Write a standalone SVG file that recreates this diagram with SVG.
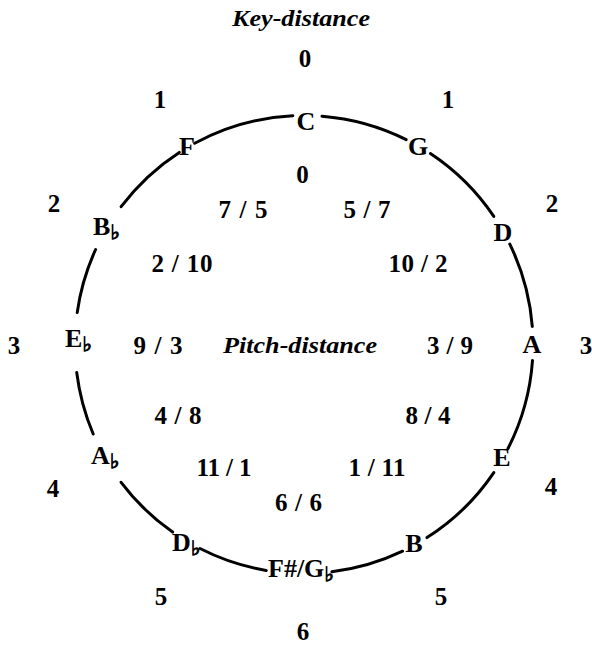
<svg xmlns="http://www.w3.org/2000/svg" width="592" height="645" viewBox="0 0 592 645">
<style>
text{font-family:"Liberation Serif","Times New Roman",serif;font-size:25px;font-weight:bold;fill:#000;text-anchor:middle}
.n{font-size:26px}
.s{text-anchor:start}
.it{font-style:italic;font-size:24px}
.fl{font-family:"DejaVu Sans","DejaVu Serif",sans-serif;font-size:20px;font-weight:bold;font-variant-emoji:text;stroke:#000;stroke-width:1}
.arc{fill:none;stroke:#000;stroke-width:3;stroke-linecap:round}
</style>
<rect width="592" height="645" fill="#fff"/>
<g id="connectors">
<path class="arc" d="M322.0 116.2 A229 229 0 0 1 406.2 139.6"/>
<path class="arc" d="M430.4 153.5 A229 229 0 0 1 493.8 216.4"/>
<path class="arc" d="M509.8 244.1 A229 229 0 0 1 532.3 326.5"/>
<path class="arc" d="M532.5 360.5 A229 229 0 0 1 508.0 448.5"/>
<path class="arc" d="M493.8 472.6 A229 229 0 0 1 427.0 537.6"/>
<path class="arc" d="M402.6 551.2 A229 229 0 0 1 331.9 571.8"/>
<path class="arc" d="M266.2 570.4 A229 229 0 0 1 200.0 548.5"/>
<path class="arc" d="M172.6 532.1 A229 229 0 0 1 121.1 482.3"/>
<path class="arc" d="M93.2 434.0 A229 229 0 0 1 76.7 372.4"/>
<path class="arc" d="M77.2 312.6 A229 229 0 0 1 95.6 249.5"/>
<path class="arc" d="M121.1 206.7 A229 229 0 0 1 179.3 152.4"/>
<path class="arc" d="M194.7 143.3 A229 229 0 0 1 292.8 115.8"/>
</g>
<g id="titles">
<text class="it s" x="232" y="26" textLength="138" lengthAdjust="spacingAndGlyphs">Key-distance</text>
<text class="it s" x="223" y="353" textLength="154" lengthAdjust="spacingAndGlyphs">Pitch-distance</text>
</g>
<g id="key-distances">
<text x="305" y="67">0</text>
<text x="160" y="108">1</text>
<text x="448" y="108">1</text>
<text x="54" y="212">2</text>
<text x="552" y="212">2</text>
<text x="14" y="354">3</text>
<text x="586" y="354">3</text>
<text x="53" y="497">4</text>
<text x="551" y="495">4</text>
<text x="161" y="605">5</text>
<text x="441" y="605">5</text>
<text x="303" y="640">6</text>
</g>
<g id="node-C"><text class="n" x="306" y="130">C</text></g>
<g id="node-G"><text class="n" x="418" y="155">G</text></g>
<g id="node-D"><text class="n" x="503" y="241">D</text></g>
<g id="node-A"><text class="n" x="532" y="353">A</text></g>
<g id="node-E"><text class="n" x="502" y="466">E</text></g>
<g id="node-B"><text class="n" x="414" y="552">B</text></g>
<g id="node-FsGb"><text class="n s" x="268" y="577">F#/G<tspan class="fl" dy="4">♭</tspan></text></g>
<g id="node-Db"><text class="n s" x="172" y="551">D<tspan class="fl" dy="4">♭</tspan></text></g>
<g id="node-Ab"><text class="n s" x="91" y="464">A<tspan class="fl" dy="4">♭</tspan></text></g>
<g id="node-Eb"><text class="n s" x="65" y="347">E<tspan class="fl" dy="4">♭</tspan></text></g>
<g id="node-Bb"><text class="n s" x="93" y="235">B<tspan class="fl" dy="4">♭</tspan></text></g>
<g id="node-F"><text class="n" x="187" y="155">F</text></g>
<g id="pitch-distances">
<text x="302.5" y="183">0</text>
<text x="243" y="218" textLength="49">7 / 5</text>
<text x="367" y="218" textLength="47">5 / 7</text>
<text x="182" y="272" textLength="61">2 / 10</text>
<text x="418" y="272" textLength="59">10 / 2</text>
<text x="158" y="354" textLength="49">9 / 3</text>
<text x="450" y="354" textLength="46">3 / 9</text>
<text x="178" y="424" textLength="47">4 / 8</text>
<text x="428" y="424" textLength="45">8 / 4</text>
<text x="224" y="476" textLength="55">11 / 1</text>
<text x="377" y="476" textLength="57">1 / 11</text>
<text x="298.5" y="511" textLength="47">6 / 6</text>
</g>
</svg>
